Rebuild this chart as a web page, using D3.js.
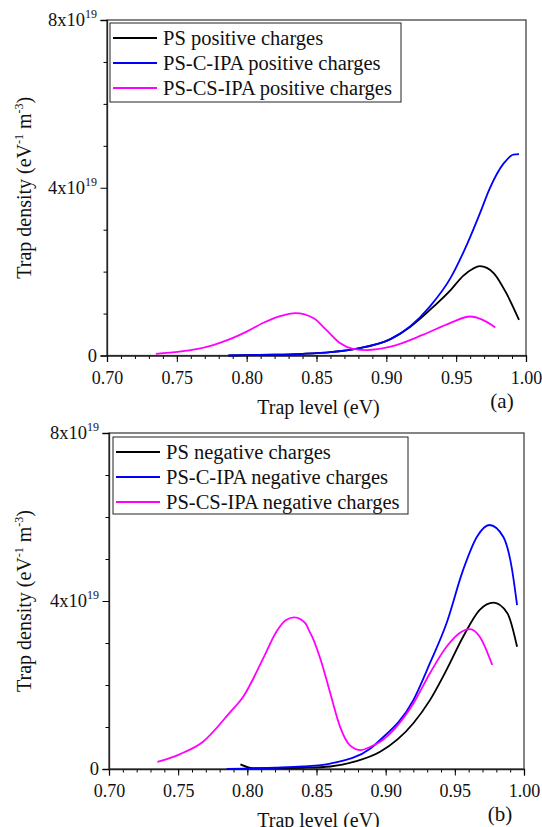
<!DOCTYPE html>
<html>
<head>
<meta charset="utf-8">
<script src="https://cdn.jsdelivr.net/npm/d3@7"></script>
<style>
  body { margin: 0; background: #fff; }
  text { font-family: "Liberation Serif", "Times New Roman", serif; fill: #111; }
</style>
</head>
<body>
<script>
// ---- data (trap level in eV, trap density in 1e19 eV^-1 m^-3) ----
var psPosE = [0.787, 0.80, 0.82, 0.84, 0.86, 0.88, 0.903, 0.917, 0.931, 0.946, 0.955, 0.962, 0.967, 0.972, 0.977, 0.986, 0.995];
var psPosV = [0.00, 0.01, 0.02, 0.04, 0.08, 0.17, 0.39, 0.68, 1.08, 1.56, 1.90, 2.07, 2.13, 2.09, 1.96, 1.48, 0.85];

var cPosE = [0.787, 0.80, 0.82, 0.84, 0.86, 0.88, 0.903, 0.917, 0.931, 0.946, 0.958, 0.967, 0.974, 0.984, 0.991, 0.995];
var cPosV = [0.00, 0.01, 0.02, 0.04, 0.08, 0.17, 0.39, 0.69, 1.16, 1.85, 2.67, 3.39, 3.98, 4.58, 4.79, 4.80];

var csPosE = [0.735, 0.752, 0.764, 0.776, 0.788, 0.800, 0.812, 0.824, 0.835, 0.848, 0.857, 0.867, 0.876, 0.886, 0.903, 0.926, 0.946, 0.960, 0.969, 0.978];
var csPosV = [0.04, 0.09, 0.15, 0.25, 0.39, 0.57, 0.78, 0.94, 1.01, 0.89, 0.61, 0.29, 0.16, 0.13, 0.21, 0.49, 0.78, 0.93, 0.85, 0.67];

var psNegE = [0.795, 0.804, 0.82, 0.84, 0.86, 0.878, 0.896, 0.92, 0.932, 0.944, 0.956, 0.968, 0.978, 0.988, 0.995];
var psNegV = [0.11, 0.02, 0.02, 0.03, 0.06, 0.18, 0.41, 1.09, 1.64, 2.36, 3.15, 3.79, 3.96, 3.71, 2.91];

var cNegE = [0.785, 0.80, 0.82, 0.84, 0.86, 0.889, 0.896, 0.92, 0.932, 0.944, 0.956, 0.966, 0.975, 0.985, 0.991, 0.995];
var cNegV = [0.00, 0.01, 0.03, 0.06, 0.13, 0.49, 0.69, 1.64, 2.52, 3.47, 4.74, 5.53, 5.81, 5.53, 4.82, 3.90];

var csNegE = [0.735, 0.751, 0.768, 0.787, 0.797, 0.812, 0.821, 0.828, 0.834, 0.842, 0.845, 0.847, 0.853, 0.860, 0.867, 0.874, 0.882, 0.889, 0.896, 0.920, 0.932, 0.944, 0.954, 0.961, 0.968, 0.977];
var csNegV = [0.17, 0.35, 0.65, 1.33, 1.72, 2.67, 3.27, 3.55, 3.61, 3.47, 3.27, 3.14, 2.60, 1.80, 1.01, 0.57, 0.45, 0.53, 0.65, 1.56, 2.28, 2.91, 3.25, 3.33, 3.15, 2.48];

var xMajor = [0.70, 0.75, 0.80, 0.85, 0.90, 0.95, 1.00];
var yMajor = [0, 4, 8];
var posNames = ["PS positive charges", "PS-C-IPA positive charges", "PS-CS-IPA positive charges"];
var negNames = ["PS negative charges", "PS-C-IPA negative charges", "PS-CS-IPA negative charges"];
var colors = ["#000000", "#0000ff", "#ff00ff"];

var svg = d3.select("body").append("svg")
    .attr("width", 542).attr("height", 827);

function zip(e, v) { return e.map(function(d, i) { return [d, v[i]]; }); }

function panel(cfg) {
  var x = d3.scaleLinear().domain([0.70, 1.00]).range([cfg.left, cfg.right]);
  var y = d3.scaleLinear().domain([0, 8]).range([cfg.bottom, cfg.top]);
  var g = svg.append("g");

  // frame
  g.append("rect")
    .attr("x", cfg.left).attr("y", cfg.top)
    .attr("width", cfg.right - cfg.left).attr("height", cfg.bottom - cfg.top)
    .attr("fill", "none").attr("stroke", "#444").attr("stroke-width", 1.3);

  // x minor + major ticks
  var xMinor = d3.range(70, 101).map(function(d) { return d / 100; });
  g.append("g").attr("transform", "translate(0," + cfg.bottom + ")")
    .call(d3.axisBottom(x).tickValues(xMinor).tickSize(3.5).tickFormat(""))
    .call(function(a) { a.select(".domain").remove(); });
  var xa = g.append("g").attr("transform", "translate(0," + cfg.bottom + ")")
    .call(d3.axisBottom(x).tickValues(xMajor).tickSize(6.5).tickPadding(9).tickFormat(d3.format(".2f")));
  xa.select(".domain").attr("stroke", "#222").attr("stroke-width", 1.3);
  xa.selectAll("text").attr("font-size", 18).attr("font-family", "Liberation Serif").attr("fill", "#111");

  // y minor + major ticks
  g.append("g").attr("transform", "translate(" + cfg.left + ",0)")
    .call(d3.axisLeft(y).tickValues([1, 2, 3, 5, 6, 7]).tickSize(3.5).tickFormat(""))
    .call(function(a) { a.select(".domain").remove(); });
  var ya = g.append("g").attr("transform", "translate(" + cfg.left + ",0)")
    .call(d3.axisLeft(y).tickValues(yMajor).tickSize(6.5).tickFormat(""));
  ya.select(".domain").attr("stroke", "#222").attr("stroke-width", 1.3);

  yMajor.forEach(function(v) {
    var t = g.append("text")
      .attr("x", cfg.left - 10).attr("y", y(v) + 6)
      .attr("text-anchor", "end").attr("font-size", 18.5);
    if (v === 0) { t.text("0"); }
    else {
      t.append("tspan").text(v + "x10");
      t.append("tspan").attr("font-size", 12).attr("dy", -8).text("19");
    }
  });

  // curves
  var line = d3.line()
    .x(function(d) { return x(d[0]); })
    .y(function(d) { return y(d[1]); })
    .curve(d3.curveMonotoneX);
  cfg.series.forEach(function(s, i) {
    g.append("path").datum(s)
      .attr("fill", "none").attr("stroke", colors[i])
      .attr("stroke-width", 1.8).attr("d", line);
  });

  // legend
  var lg = cfg.legend;
  g.append("rect")
    .attr("x", lg.x).attr("y", lg.y).attr("width", lg.w).attr("height", lg.h)
    .attr("fill", "#fff").attr("stroke", "#222").attr("stroke-width", 1);
  cfg.names.forEach(function(n, i) {
    var yy = lg.y + 15 + i * 25;
    g.append("line")
      .attr("x1", lg.x + 3).attr("x2", lg.x + 47)
      .attr("y1", yy).attr("y2", yy)
      .attr("stroke", colors[i]).attr("stroke-width", 1.8);
    g.append("text")
      .attr("x", lg.x + 53).attr("y", yy + 6.5)
      .attr("font-size", 20.5).text(n);
  });

  // axis titles
  g.append("text")
    .attr("x", (cfg.left + cfg.right) / 2 + 2).attr("y", cfg.bottom + 58)
    .attr("text-anchor", "middle").attr("font-size", 20).text("Trap level (eV)");
  g.append("text")
    .attr("x", cfg.right - 24).attr("y", cfg.bottom + 52)
    .attr("text-anchor", "middle").attr("font-size", 21).text(cfg.tag);

  var yt = g.append("text")
    .attr("transform", "translate(31," + ((cfg.top + cfg.bottom) / 2) + ") rotate(-90)")
    .attr("text-anchor", "middle").attr("font-size", 20);
  yt.append("tspan").text("Trap density (eV");
  yt.append("tspan").attr("font-size", 12).attr("dy", -8).text("-1");
  yt.append("tspan").attr("dy", 8).text(" m");
  yt.append("tspan").attr("font-size", 12).attr("dy", -8).text("-3");
  yt.append("tspan").attr("dy", 8).text(")");
}

panel({
  left: 107, right: 526, top: 20, bottom: 355.5, tag: "(a)",
  names: posNames,
  series: [zip(psPosE, psPosV), zip(cPosE, cPosV), zip(csPosE, csPosV)],
  legend: { x: 110, y: 23, w: 291, h: 79 }
});

panel({
  left: 109, right: 524, top: 433, bottom: 769, tag: "(b)",
  names: negNames,
  series: [zip(psNegE, psNegV), zip(cNegE, cNegV), zip(csNegE, csNegV)],
  legend: { x: 113, y: 437, w: 295, h: 77 }
});
</script>
</body>
</html>
